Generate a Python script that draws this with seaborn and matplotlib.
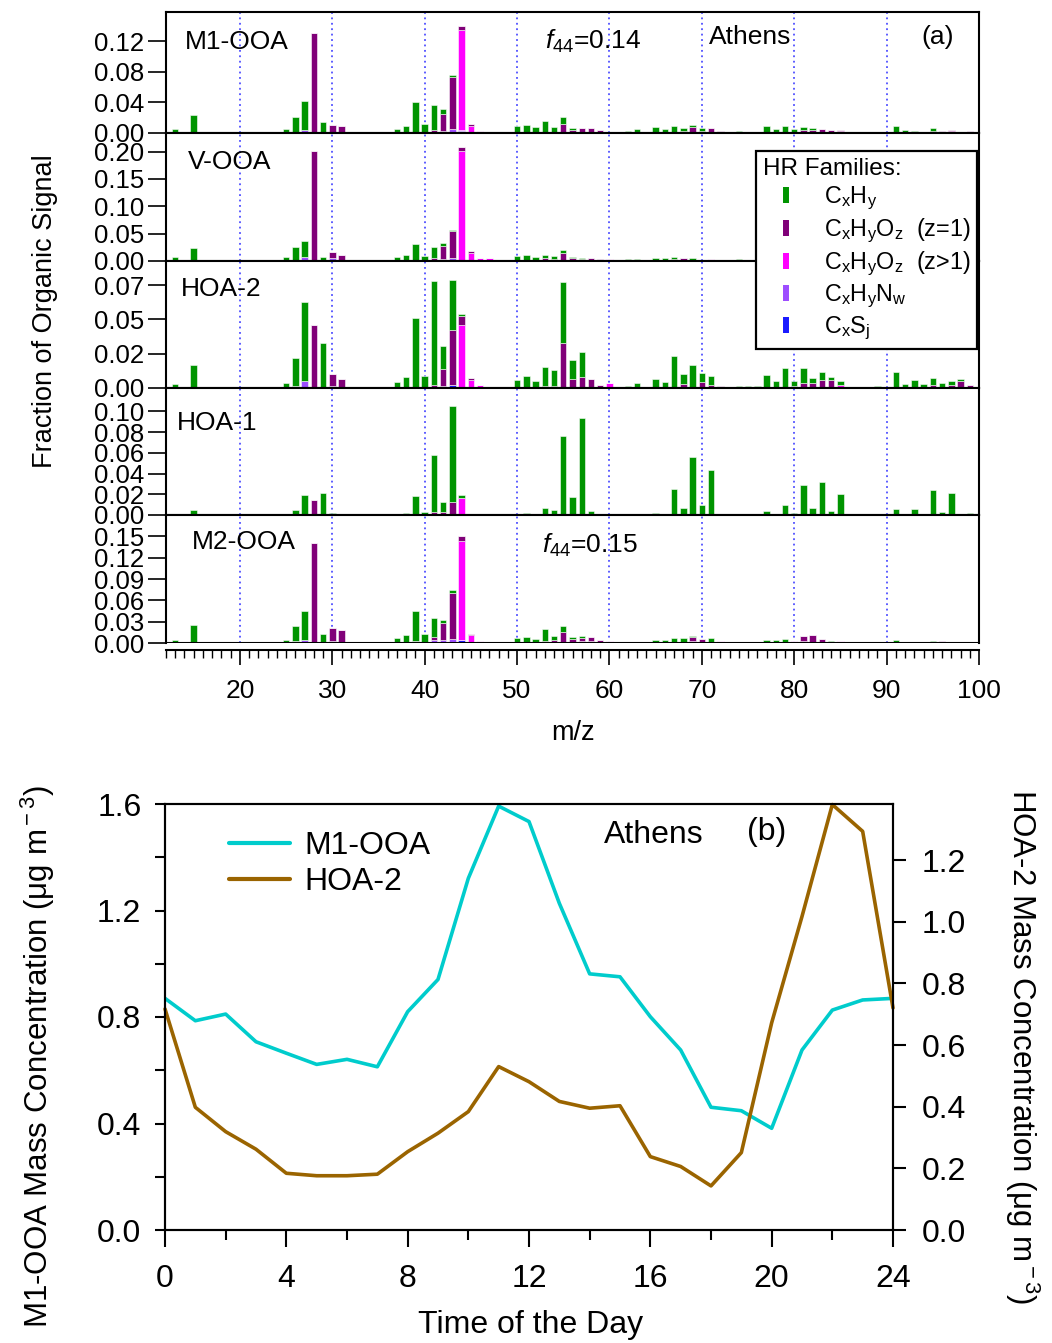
import numpy as np
import pandas as pd
import matplotlib
matplotlib.use("Agg")
import matplotlib.pyplot as plt
import seaborn as sns
from matplotlib.lines import Line2D
from matplotlib.ticker import MultipleLocator, FixedLocator, FixedFormatter, FormatStrFormatter

sns.set_theme(style="ticks")
plt.rcParams['font.family'] = ['Liberation Sans', 'DejaVu Sans']
plt.rcParams['mathtext.fontset'] = 'custom'
plt.rcParams['mathtext.rm'] = 'Liberation Sans'
plt.rcParams['mathtext.it'] = 'Liberation Sans:italic'
plt.rcParams['mathtext.bf'] = 'Liberation Sans:bold'
plt.rcParams['axes.edgecolor'] = 'black'
plt.rcParams['xtick.color'] = 'black'
plt.rcParams['ytick.color'] = 'black'
plt.rcParams['text.color'] = 'black'

# ---------------------------------------------------------------- data ----
families = ["CxHy", "CxHyO1", "CxHyOz", "CxHyNw", "CxSj"]
family_labels = [r"C$_{\rm x}$H$_{\rm y}$",
                 r"C$_{\rm x}$H$_{\rm y}$O$_{\rm z}$  (z=1)",
                 r"C$_{\rm x}$H$_{\rm y}$O$_{\rm z}$  (z>1)",
                 r"C$_{\rm x}$H$_{\rm y}$N$_{\rm w}$",
                 r"C$_{\rm x}$S$_{\rm j}$"]
family_colors = {"CxHy": "#009400", "CxHyO1": "#800078", "CxHyOz": "#ff00ff",
                 "CxHyNw": "#9d4dff", "CxSj": "#1a1aff"}

# M1-OOA mass spectrum (fraction of organic signal per m/z)
m1ooa_cxhy = {13: 0.005, 15: 0.023, 25: 0.0046, 26: 0.021, 27: 0.038, 29: 0.015, 30: 0.001,
              37: 0.005, 38: 0.0094, 39: 0.041, 40: 0.012, 41: 0.033, 42: 0.006, 43: 0.003,
              50: 0.009, 51: 0.0107, 52: 0.0077, 53: 0.0155, 54: 0.0077, 55: 0.009, 56: 0.003,
              62: 0.003, 63: 0.0046, 65: 0.0072, 66: 0.0046, 67: 0.0094, 68: 0.004, 69: 0.003,
              70: 0.003, 74: 0.002, 75: 0.0015, 76: 0.0015, 77: 0.009, 78: 0.0046, 79: 0.0094,
              80: 0.005, 81: 0.004, 82: 0.002, 90: 0.0015, 91: 0.0094, 92: 0.004, 93: 0.003,
              94: 0.0015, 95: 0.003}
m1ooa_o1 = {28: 0.130, 30: 0.010, 31: 0.0085, 41: 0.004, 42: 0.022, 43: 0.068, 44: 0.006,
            45: 0.003, 55: 0.012, 56: 0.004, 57: 0.007, 58: 0.007, 59: 0.004, 68: 0.003,
            69: 0.008, 70: 0.003, 71: 0.007, 72: 0.001, 81: 0.004, 82: 0.004, 83: 0.0046,
            84: 0.004, 85: 0.002, 95: 0.003, 96: 0.003, 97: 0.002, 99: 0.003}
m1ooa_oz = {44: 0.130, 45: 0.009, 46: 0.002, 72: 0.001, 85: 0.002, 97: 0.002}
m1ooa_n = {27: 0.004, 42: 0.003, 43: 0.004, 44: 0.002}
m1ooa_s = {43: 0.001, 44: 0.002}

# V-OOA mass spectrum
vooa_cxhy = {13: 0.0073, 15: 0.024, 25: 0.007, 26: 0.025, 27: 0.029, 29: 0.008, 37: 0.007,
             38: 0.011, 39: 0.031, 40: 0.0097, 41: 0.021, 42: 0.004, 43: 0.002, 50: 0.009,
             51: 0.011, 52: 0.008, 53: 0.006, 54: 0.004, 55: 0.0055, 56: 0.003, 57: 0.002,
             61: 0.002, 62: 0.003, 63: 0.004, 65: 0.006, 66: 0.005, 67: 0.004, 69: 0.003,
             70: 0.002, 73: 0.002, 74: 0.003}
vooa_o1 = {28: 0.202, 30: 0.011, 31: 0.0115, 41: 0.005, 42: 0.025, 43: 0.050, 44: 0.006,
           45: 0.0025, 53: 0.005, 54: 0.0045, 55: 0.014, 56: 0.005, 57: 0.003, 58: 0.004,
           59: 0.003, 67: 0.003, 68: 0.006, 69: 0.002}
vooa_oz = {44: 0.202, 45: 0.015, 46: 0.005, 47: 0.005, 58: 0.002, 60: 0.003, 71: 0.003}
vooa_n = {27: 0.007, 30: 0.006, 42: 0.003, 43: 0.003}
vooa_s = {43: 0.002}

# HOA-2 mass spectrum
hoa2_cxhy = {13: 0.0026, 15: 0.0168, 25: 0.0034, 26: 0.020, 27: 0.058, 29: 0.033, 37: 0.0043,
             38: 0.0077, 39: 0.0512, 40: 0.0089, 41: 0.076, 42: 0.017, 43: 0.037, 44: 0.001,
             50: 0.0055, 51: 0.0089, 52: 0.0048, 53: 0.0138, 54: 0.012, 55: 0.044, 56: 0.0144,
             57: 0.0178, 61: 0.001, 62: 0.0014, 63: 0.0036, 65: 0.0067, 66: 0.0043, 67: 0.023,
             68: 0.0075, 69: 0.0164, 70: 0.0065, 71: 0.007, 73: 0.001, 74: 0.0012, 75: 0.0014,
             76: 0.0014, 77: 0.0096, 78: 0.0053, 79: 0.0144, 80: 0.004, 81: 0.0106, 82: 0.0037,
             83: 0.0062, 84: 0.0022, 85: 0.003, 86: 0.001, 89: 0.0014, 91: 0.0113, 92: 0.003,
             93: 0.0055, 94: 0.003, 95: 0.005, 96: 0.0036, 97: 0.0031, 98: 0.0015}
hoa2_o1 = {28: 0.046, 30: 0.0084, 31: 0.0063, 41: 0.002, 42: 0.012, 43: 0.040, 44: 0.007,
           45: 0.002, 53: 0.0014, 54: 0.0014, 55: 0.033, 56: 0.0063, 57: 0.0082, 58: 0.0065,
           59: 0.0022, 68: 0.0026, 70: 0.0046, 71: 0.002, 72: 0.0017, 80: 0.0013, 81: 0.0038,
           82: 0.0038, 83: 0.0058, 84: 0.0058, 95: 0.002, 97: 0.0022, 98: 0.005, 99: 0.0012}
hoa2_oz = {44: 0.0456, 45: 0.0055, 46: 0.0024, 60: 0.0036, 85: 0.0024, 99: 0.001}
hoa2_n = {26: 0.0015, 27: 0.005, 30: 0.0015, 42: 0.0015}
hoa2_s = {43: 0.002}

# HOA-1 mass spectrum
hoa1_cxhy = {15: 0.0049, 26: 0.0049, 27: 0.0194, 29: 0.0217, 30: 0.0012, 38: 0.0016,
             39: 0.0184, 40: 0.0029, 41: 0.055, 42: 0.0096, 43: 0.092, 44: 0.0025, 50: 0.0013,
             51: 0.002, 53: 0.007, 54: 0.0049, 55: 0.0757, 56: 0.0175, 57: 0.094, 58: 0.0032,
             65: 0.0016, 66: 0.0006, 67: 0.0256, 68: 0.0065, 69: 0.0563, 70: 0.010, 71: 0.043,
             72: 0.0013, 77: 0.0036, 78: 0.0006, 79: 0.0094, 80: 0.0016, 81: 0.029, 82: 0.0068,
             83: 0.032, 84: 0.0036, 85: 0.0207, 91: 0.0058, 92: 0.0006, 93: 0.0061, 94: 0.0013,
             95: 0.024, 96: 0.0029, 97: 0.0217, 98: 0.0013, 99: 0.002}
hoa1_o1 = {28: 0.0146, 30: 0.0011, 31: 0.0013, 41: 0.003, 42: 0.003, 43: 0.013, 45: 0.001,
           55: 0.001, 58: 0.001}
hoa1_oz = {44: 0.0165}
hoa1_n = {}
hoa1_s = {}

# M2-OOA mass spectrum
m2ooa_cxhy = {13: 0.0042, 15: 0.025, 25: 0.0047, 26: 0.021, 27: 0.041, 29: 0.0126, 37: 0.0065,
              38: 0.011, 39: 0.042, 40: 0.0126, 41: 0.026, 42: 0.004, 43: 0.0047, 49: 0.0014,
              50: 0.0065, 51: 0.0084, 52: 0.0056, 53: 0.0166, 54: 0.0063, 55: 0.008,
              56: 0.0025, 57: 0.003, 61: 0.001, 62: 0.0012, 63: 0.0012, 65: 0.0047, 66: 0.004,
              67: 0.0055, 68: 0.0045, 69: 0.002, 71: 0.005, 73: 0.001, 74: 0.001, 75: 0.001,
              77: 0.004, 78: 0.0025, 79: 0.0056, 84: 0.002, 91: 0.0037, 92: 0.001, 93: 0.001,
              94: 0.001, 95: 0.001}
m2ooa_o1 = {28: 0.140, 30: 0.017, 31: 0.0186, 41: 0.005, 42: 0.024, 43: 0.065, 44: 0.007,
            45: 0.0023, 53: 0.003, 54: 0.004, 55: 0.016, 56: 0.0055, 57: 0.0035, 58: 0.006,
            59: 0.0027, 68: 0.002, 69: 0.005, 70: 0.004, 78: 0.0012, 81: 0.0073, 82: 0.0100,
            83: 0.004, 84: 0.001, 95: 0.001, 96: 0.0012}
m2ooa_oz = {22: 0.001, 44: 0.140, 45: 0.011, 46: 0.0023, 47: 0.002, 57: 0.003, 58: 0.0029,
            59: 0.002, 60: 0.003, 61: 0.001, 62: 0.0008, 63: 0.0008, 67: 0.002, 69: 0.003,
            70: 0.002, 71: 0.002, 72: 0.0023, 80: 0.003, 81: 0.003, 82: 0.0017, 83: 0.002,
            85: 0.003, 86: 0.002, 87: 0.002, 88: 0.002, 89: 0.0015, 92: 0.001, 93: 0.001,
            94: 0.001, 95: 0.001, 96: 0.001, 97: 0.002, 98: 0.002, 99: 0.0015}
m2ooa_n = {13: 0.0005, 14: 0.0008, 16: 0.0008, 17: 0.0008, 18: 0.0008, 19: 0.0008,
           20: 0.0008, 21: 0.0008, 24: 0.0008, 26: 0.003, 27: 0.004, 30: 0.0035, 36: 0.0008,
           39: 0.003, 41: 0.004, 42: 0.004, 43: 0.004, 50: 0.001, 64: 0.0008, 76: 0.0008}
m2ooa_s = {43: 0.001, 44: 0.004}

# y-axis ticks of each spectrum panel
m1ooa_ticks = [0.0, 0.04, 0.08, 0.12]
m1ooa_ticklabels = ["0.00", "0.04", "0.08", "0.12"]
vooa_ticks = [0.0, 0.05, 0.10, 0.15, 0.20]
vooa_ticklabels = ["0.00", "0.05", "0.10", "0.15", "0.20"]
hoa2_ticks = [0.0, 0.025, 0.05, 0.075]
hoa2_ticklabels = ["0.00", "0.02", "0.05", "0.07"]
hoa1_ticks = [0.0, 0.02, 0.04, 0.06, 0.08, 0.10]
hoa1_ticklabels = ["0.00", "0.02", "0.04", "0.06", "0.08", "0.10"]
m2ooa_ticks = [0.0, 0.03, 0.06, 0.09, 0.12, 0.15]
m2ooa_ticklabels = ["0.00", "0.03", "0.06", "0.09", "0.12", "0.15"]

# diurnal cycles (hour of day)
hours = list(range(25))
m1ooa_diurnal = [0.870, 0.786, 0.811, 0.707, 0.664, 0.622, 0.641, 0.613, 0.820, 0.941,
                 1.321, 1.592, 1.534, 1.227, 0.962, 0.951, 0.801, 0.676, 0.461, 0.448,
                 0.382, 0.676, 0.826, 0.864, 0.870]
hoa2_diurnal = [0.717, 0.398, 0.319, 0.262, 0.184, 0.176, 0.176, 0.181, 0.254, 0.314,
                0.384, 0.530, 0.481, 0.417, 0.395, 0.403, 0.238, 0.206, 0.143, 0.251,
                0.672, 1.017, 1.380, 1.293, 0.720]

# --------------------------------------------------------------- layout ---
W, H = 1052, 1343
fig = plt.figure(figsize=(W / 100, H / 100), dpi=100)


def fx(px):
    return px / W


def fy(py):
    return 1 - py / H


def profile_frame(parts):
    rows = []
    for fam, d in zip(families, parts):
        for mz, v in d.items():
            rows.append((mz, fam, v))
    return pd.DataFrame(rows, columns=["mz", "family", "fraction"])


panels = [
    ("M1-OOA", [m1ooa_cxhy, m1ooa_o1, m1ooa_oz, m1ooa_n, m1ooa_s], 12, 133, 0.158,
     m1ooa_ticks, m1ooa_ticklabels, (185, 42)),
    ("V-OOA", [vooa_cxhy, vooa_o1, vooa_oz, vooa_n, vooa_s], 133, 261, 0.234,
     vooa_ticks, vooa_ticklabels, (188, 162)),
    ("HOA-2", [hoa2_cxhy, hoa2_o1, hoa2_oz, hoa2_n, hoa2_s], 261, 388, 0.0925,
     hoa2_ticks, hoa2_ticklabels, (181, 289)),
    ("HOA-1", [hoa1_cxhy, hoa1_o1, hoa1_oz, hoa1_n, hoa1_s], 388, 515, 0.1227,
     hoa1_ticks, hoa1_ticklabels, (177, 423)),
    ("M2-OOA", [m2ooa_cxhy, m2ooa_o1, m2ooa_oz, m2ooa_n, m2ooa_s], 515, 643, 0.180,
     m2ooa_ticks, m2ooa_ticklabels, (192, 542)),
]

ax_left, ax_right = 166, 979
spec_axes = []
for i, (name, parts, top, bot, ymax, ticks, ticklabels, name_pos) in enumerate(panels):
    ax = fig.add_axes([fx(ax_left), fy(bot), fx(ax_right) - fx(ax_left), (bot - top) / H])
    df = profile_frame(parts)
    present = [f for f in families if f in set(df["family"])]
    sns.histplot(data=df, x="mz", weights="fraction", hue="family", hue_order=present,
                 multiple="stack", discrete=True, shrink=0.7, palette=family_colors,
                 alpha=1, edgecolor=(1, 1, 1, 0.55), linewidth=0.7, legend=False, ax=ax)
    for gx in range(20, 100, 10):
        ax.axvline(gx, color="#4f4fff", ls=(0, (1, 2)), lw=1.3, zorder=0.5)
    ax.set_xlim(12, 100)
    ax.set_ylim(0, ymax)
    ax.set_xlabel("")
    ax.set_ylabel("")
    ax.yaxis.set_major_locator(FixedLocator(ticks))
    ax.yaxis.set_major_formatter(FixedFormatter(ticklabels))
    ax.tick_params(axis="y", direction="out", length=13, width=1.2, labelsize=18.5, pad=3,
                   right=False)
    for sp in ax.spines.values():
        sp.set_visible(True)
        sp.set_linewidth(1.5)
        sp.set_color("black")
    if i < len(panels) - 1:
        ax.tick_params(axis="x", bottom=False, labelbottom=False)
    else:
        ax.spines["bottom"].set_position(("outward", 5))
        ax.axhline(0, color="black", lw=1.5, zorder=3)
        ax.xaxis.set_major_locator(MultipleLocator(10))
        ax.xaxis.set_minor_locator(MultipleLocator(1))
        ax.tick_params(axis="x", which="major", direction="out", length=11, width=1.2,
                       labelsize=19, pad=10)
        ax.tick_params(axis="x", which="minor", direction="out", length=6, width=1.0)
    fig.text(fx(name_pos[0]), fy(name_pos[1]), name, fontsize=19, ha="left", va="center")
    spec_axes.append(ax)

fig.text(fx(545), fy(41), r"$f_{\rm 44}$=0.14", fontsize=19, ha="left", va="center")
fig.text(fx(542), fy(545), r"$f_{\rm 44}$=0.15", fontsize=19, ha="left", va="center")
fig.text(fx(709), fy(37), "Athens", fontsize=19, ha="left", va="center")
fig.text(fx(921), fy(37), "(a)", fontsize=19, ha="left", va="center")
fig.text(fx(45), fy(311), "Fraction of Organic Signal", fontsize=19.5, rotation=90,
         ha="center", va="center")
fig.text(fx(573), fy(733), "m/z", fontsize=19.5, ha="center", va="center")

handles = [Line2D([], [], ls="none", marker="|", markersize=11, markeredgewidth=4.3,
                  color=family_colors[f]) for f in families]
leg = fig.legend(handles, family_labels, title="HR Families:", loc="upper left",
                 bbox_to_anchor=(fx(756), fy(151)), bbox_transform=fig.transFigure,
                 frameon=True, fancybox=False, edgecolor="black", framealpha=1,
                 fontsize=16.8, title_fontsize=17.5, borderpad=0.3, handlelength=2.0,
                 handletextpad=0.6, labelspacing=0.2, alignment="left", borderaxespad=0)
leg.get_frame().set_linewidth(1.6)

# ------------------------------------------------------- diurnal panel ----
cyan = "#00cccc"
brown = "#9a6400"
axb = fig.add_axes([fx(165), fy(1230), fx(893) - fx(165), (1230 - 804) / H])
sns.lineplot(x=hours, y=m1ooa_diurnal, color=cyan, lw=2.6, ax=axb, legend=False)
axr = axb.twinx()
sns.lineplot(x=hours, y=hoa2_diurnal, color=brown, lw=2.6, ax=axr, legend=False)
for line in axr.lines:
    line.set_clip_on(False)

axb.set_xlim(0, 24)
axb.set_ylim(0, 1.6)
axr.set_ylim(0, 1.3817)
axb.xaxis.set_major_locator(MultipleLocator(4))
axb.xaxis.set_minor_locator(MultipleLocator(2))
axb.yaxis.set_major_locator(MultipleLocator(0.4))
axb.yaxis.set_minor_locator(MultipleLocator(0.2))
axb.yaxis.set_major_formatter(FormatStrFormatter("%.1f"))
axr.yaxis.set_major_locator(MultipleLocator(0.2))
axr.yaxis.set_major_formatter(FormatStrFormatter("%.1f"))
axb.tick_params(axis="x", which="major", direction="out", length=12.5, width=1.5,
                labelsize=23, pad=12)
axb.tick_params(axis="x", which="minor", direction="out", length=7, width=1.5)
axb.tick_params(axis="y", which="both", direction="out", length=7, width=1.5,
                labelsize=23, pad=10)
axr.tick_params(axis="y", which="major", direction="out", length=9.5, width=1.5,
                labelsize=23, pad=11)
for a in (axb, axr):
    a.set_xlabel("")
    a.set_ylabel("")
    for sp in a.spines.values():
        sp.set_visible(True)
        sp.set_linewidth(1.5)
        sp.set_color("black")

line_handles = [Line2D([], [], color=cyan, lw=3), Line2D([], [], color=brown, lw=3)]
axr.legend(line_handles, ["M1-OOA", "HOA-2"], loc="center left",
           bbox_to_anchor=(fx(229), fy(864)), bbox_transform=fig.transFigure,
           frameon=False, fontsize=23, handlelength=1.9, handletextpad=0.45,
           labelspacing=0.18, borderpad=0, borderaxespad=0)

fig.text(fx(604), fy(835), "Athens", fontsize=23, ha="left", va="center")
fig.text(fx(747), fy(832), "(b)", fontsize=23, ha="left", va="center")
fig.text(fx(531), fy(1325), "Time of the Day", fontsize=23, ha="center", va="center")
fig.text(fx(38), fy(1057), r"M1-OOA Mass Concentration (μg m$^{\rm -3}$)", fontsize=22.5,
         rotation=90, ha="center", va="center")
fig.text(fx(1022), fy(1047), r"HOA-2 Mass Concentration (μg m$^{\rm -3}$)", fontsize=22.5,
         rotation=270, ha="center", va="center")

fig.savefig("out.png", dpi=100)
